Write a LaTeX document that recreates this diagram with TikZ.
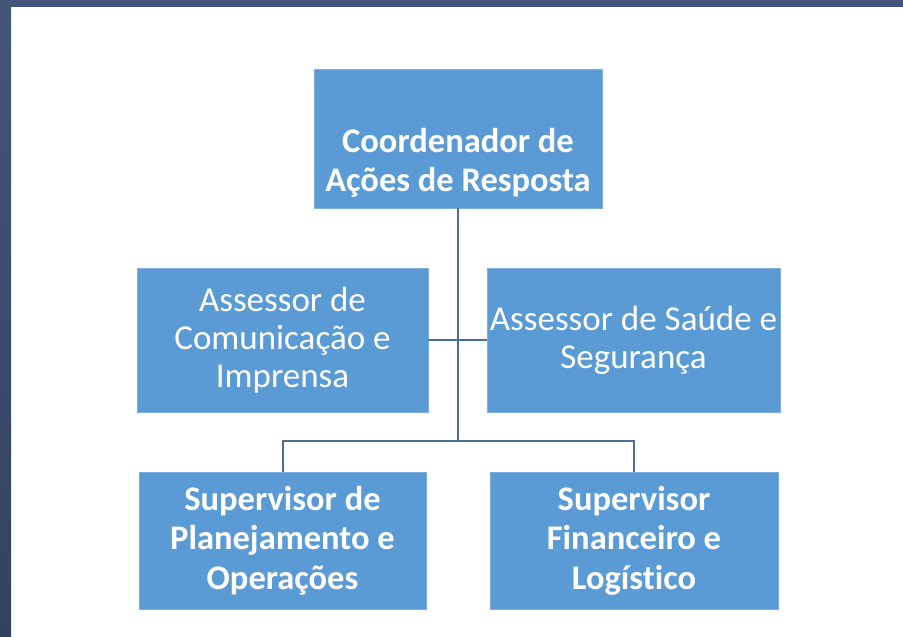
\documentclass[tikz,border=0pt]{standalone}
\usepackage{fontspec}
\setmainfont{Carlito}[Ligatures=CommonOff]
\definecolor{boxblue}{HTML}{5B9BD5}
\definecolor{linkblue}{HTML}{4A6F96}
\definecolor{frametop}{HTML}{44557A}
\definecolor{framebot}{HTML}{33425F}
\tikzset{
	orgbox/.style={fill=boxblue, draw=boxblue!80!white, line width=.8pt, text=white, align=center, inner sep=0pt},
	boldtxt/.style={font=\bfseries\fontsize{34.5}{39.5}\selectfont},
	plaintxt/.style={font=\fontsize{35}{38}\selectfont},
	link/.style={draw=linkblue, line width=2pt}
}
\begin{document}
\begin{tikzpicture}[x=1pt,y=-1pt]
		\useasboundingbox (0,0) rectangle (903,637);
		\fill[frametop] (0,0) rectangle (903,7);
		\shade[top color=frametop, bottom color=framebot] (0,0) rectangle (11,637);
		
		\node[orgbox, minimum width=288pt, minimum height=139pt] (coord) at (458,138.5) {};
		\node[text=white, align=center, boldtxt] (coordtxt) at (458,163) {Coordenador de\\Ações de Resposta};
		
		\node[orgbox, plaintxt, minimum width=291pt, minimum height=144pt] (asscom) at (282.5,340) {Assessor de\\Comunicação e\\Imprensa};
		\node[orgbox, plaintxt, minimum width=293pt, minimum height=144pt] (asssau) at (633.5,340) {Assessor de Saúde e\\Segurança};
		
		\node[orgbox, boldtxt, minimum width=287pt, minimum height=137pt] (supplan) at (282.5,540.5) {Supervisor de\\Planejamento e\\Operações};
		\node[orgbox, boldtxt, minimum width=288pt, minimum height=137pt] (supfin) at (634,540.5) {Supervisor\\Financeiro e\\Logístico};
		
		\coordinate (junc) at (coord.south |- 0,441);
		\draw[link] (coord.south) -- (junc);
		\draw[link] (asscom.east) -- (asssau.west);
		\draw[link] (supplan.north) |- (junc) -| (supfin.north);
\end{tikzpicture}
\end{document}
